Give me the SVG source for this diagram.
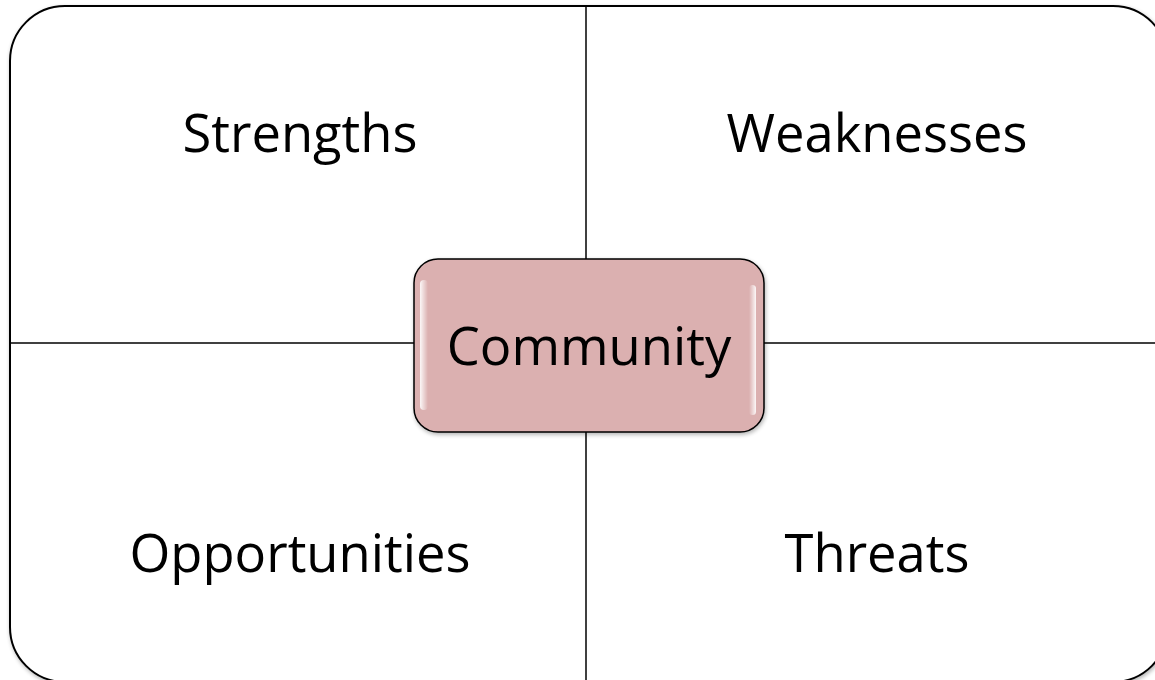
<svg xmlns="http://www.w3.org/2000/svg" width="1155" height="680" viewBox="0 0 1155 680">
<defs>
<style>
.lbl{font-family:"Open Sans","Noto Sans","Liberation Sans",sans-serif;font-size:52.5px;fill:#000;text-anchor:middle}
.ln{stroke:#000;stroke-width:1.5;fill:none}
</style>
<linearGradient id="gl" x1="0" y1="0" x2="1" y2="0">
<stop offset="0" stop-color="#fff" stop-opacity="0.9"/>
<stop offset="1" stop-color="#fff" stop-opacity="0"/>
</linearGradient>
<linearGradient id="gr" x1="0" y1="0" x2="1" y2="0">
<stop offset="0" stop-color="#fff" stop-opacity="0"/>
<stop offset="1" stop-color="#fff" stop-opacity="0.9"/>
</linearGradient>
<filter id="sh" x="-10%" y="-10%" width="120%" height="120%">
<feGaussianBlur in="SourceAlpha" stdDeviation="2"/>
<feOffset dx="1" dy="2"/>
<feComponentTransfer><feFuncA type="linear" slope="0.3"/></feComponentTransfer>
<feMerge><feMergeNode/><feMergeNode in="SourceGraphic"/></feMerge>
</filter>
</defs>
<rect width="1155" height="680" fill="#fff"/>
<g id="frame">
<rect x="10" y="6" width="1158" height="676" rx="55" ry="55" fill="#fff" stroke="#000" stroke-width="2" filter="url(#sh)"/>
</g>
<g id="connectors">
<line class="ln" x1="586" y1="6" x2="586" y2="259"/>
<line class="ln" x1="586" y1="432" x2="586" y2="682"/>
<line class="ln" x1="10" y1="343" x2="414" y2="343"/>
<line class="ln" x1="764" y1="343" x2="1168" y2="343"/>
</g>
<g id="strengths"><text class="lbl" x="300" y="152">Strengths</text></g>
<g id="weaknesses"><text class="lbl" x="877" y="152">Weaknesses</text></g>
<g id="opportunities"><text class="lbl" x="300" y="572">Opportunities</text></g>
<g id="threats"><text class="lbl" x="877" y="572">Threats</text></g>
<g id="community">
<rect x="414" y="259" width="350" height="173" rx="24" ry="24" fill="#dbb0b0" stroke="#000" stroke-width="1.5" filter="url(#sh)"/>
<rect x="420" y="280" width="8" height="130" rx="4" fill="url(#gl)"/>
<rect x="749" y="285" width="7" height="130" rx="3.5" fill="url(#gr)"/>
<text class="lbl" x="589" y="365">Community</text>
</g>
</svg>
